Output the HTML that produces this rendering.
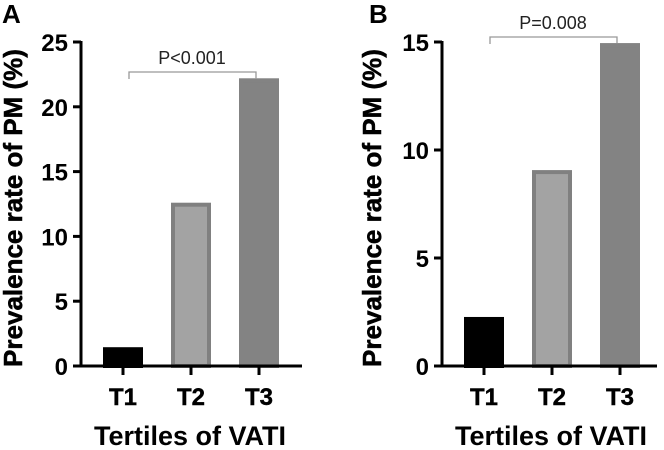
<!DOCTYPE html>
<html><head><meta charset="utf-8"><style>
html,body{margin:0;padding:0;background:#fff;}
svg{display:block;font-family:"Liberation Sans",Arial,sans-serif;}
</style></head><body>
<svg id="c" width="664" height="450" viewBox="0 0 664 450"></svg>
<script>
const categories = ["T1","T2","T3"];
const valuesA = [1.45, 12.6, 22.2];
const valuesB = [2.27, 9.07, 14.95];
const ticksA = [0,5,10,15,20,25];
const ticksB = [0,5,10,15];
const pA = "P<0.001";
const pB = "P=0.008";

const NS="http://www.w3.org/2000/svg";
const svg=document.getElementById('c');
function mk(tag,attrs,parent){const e=document.createElementNS(NS,tag);for(const k in attrs)e.setAttribute(k,attrs[k]);(parent||svg).appendChild(e);return e;}

function panel(o){
  const g=mk('g',{});
  
  
  const y=v=>o.y0-(v/o.max)*(o.y0-o.yTop);
  const x=i=>o.x1+i*68;
  const fills=['#000000','#a3a3a3','#838383'];
  const strokes=['#000000','#808080','#838383'];
  o.vals.forEach((v,i)=>{
    const r=mk('rect',{x:x(i)-18,y:y(v)+2,width:36,height:o.y0-y(v)-2,fill:fills[i],stroke:strokes[i],'stroke-width':4},g);
    
    
  });
  const ya=mk('line',{x1:o.ax,y1:o.yTop-1,x2:o.ax,y2:o.y0+1.5,stroke:'#000','stroke-width':3},g);
  
  const xa=mk('line',{x1:o.ax-1.5,y1:o.y0,x2:o.xEnd,y2:o.y0,stroke:'#000','stroke-width':3},g);
  
  o.ticks.forEach(t=>{
    mk('line',{x1:o.ax-8,y1:y(t),x2:o.ax,y2:y(t),stroke:'#000','stroke-width':3},g);
    const tx=mk('text',{x:o.ax-13,y:y(t)+9,'text-anchor':'end','font-size':24,'font-weight':'bold'},g);
    tx.textContent=t;
    
  });
  categories.forEach((c,i)=>{
    mk('line',{x1:x(i),y1:o.y0,x2:x(i),y2:o.y0+9,stroke:'#000','stroke-width':3},g);
    const tx=mk('text',{x:x(i),y:405,'text-anchor':'middle','font-size':24,'font-weight':'bold','stroke':'#000','stroke-width':0.4},g);
    tx.textContent=c;
    
  });
  const by=o.bracketY;
  const br=mk('path',{d:`M${x(0)+6} ${by+7}V${by}H${x(2)-3}V${y(o.vals[2])}`,fill:'none',stroke:'#999','stroke-width':1.3},g);
  
  const pt=mk('text',{x:(x(0)+x(2))/2+1,y:by-8,'text-anchor':'middle','font-size':18,fill:'#222'},g);
  pt.textContent=o.p;
  
  const yt=mk('text',{x:0,y:0,transform:`translate(${o.ytx},${(o.y0+o.yTop)/2+4}) rotate(-90)`,'text-anchor':'middle','font-size':26,'font-weight':'bold','stroke':'#000','stroke-width':0.5},g);
  yt.textContent='Prevalence rate of PM (%)';
  
  const xt=mk('text',{x:x(1)-1,y:445,'text-anchor':'middle','font-size':27,'font-weight':'bold'},g);
  xt.textContent='Tertiles of VATI';
  
  const lt=mk('text',{x:o.lx,y:23,'font-size':26,'font-weight':'bold'},g);
  lt.textContent=o.letter;
  
}
panel({letter:'A',vals:valuesA,ticks:ticksA,max:25,y0:366,yTop:42,ax:81,x1:123,xEnd:302,bracketY:72,p:pA,ytx:22,lx:2});
panel({letter:'B',vals:valuesB,ticks:ticksB,max:15,y0:366,yTop:42,ax:442,x1:484,xEnd:657,bracketY:37,p:pB,ytx:381,lx:369});
</script>
</body></html>
